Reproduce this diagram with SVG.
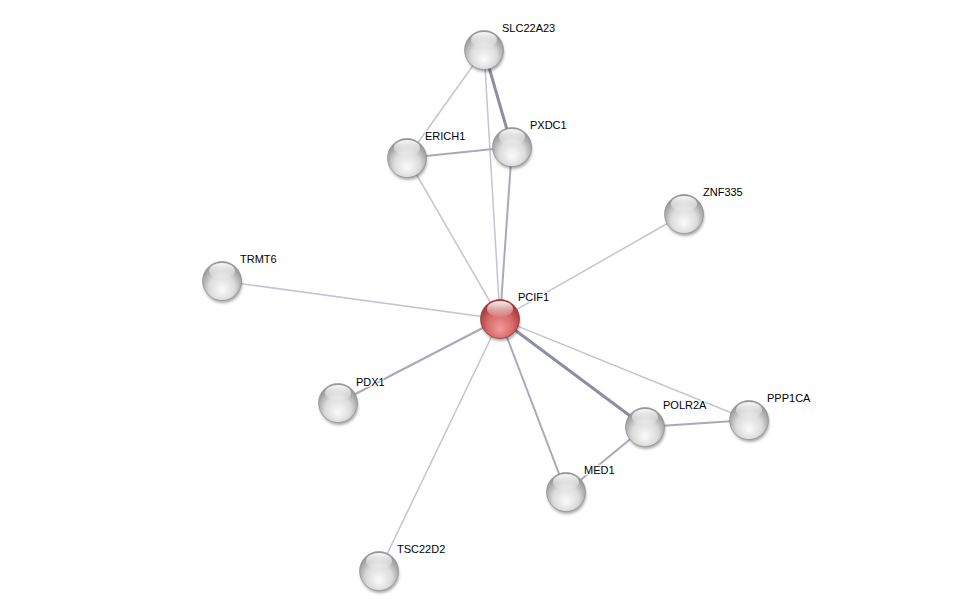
<svg xmlns="http://www.w3.org/2000/svg" width="975" height="616" viewBox="0 0 975 616">
<defs>
<radialGradient id="gBody" cx="50%" cy="62%" r="55%" fx="50%" fy="75%">
<stop offset="0" stop-color="#fbfbfb"/>
<stop offset="0.6" stop-color="#dcdcdc"/>
<stop offset="1" stop-color="#9a9a9a"/>
</radialGradient>
<radialGradient id="rBody" cx="50%" cy="62%" r="55%" fx="50%" fy="78%">
<stop offset="0" stop-color="#f49a9a"/>
<stop offset="0.6" stop-color="#d86a6a"/>
<stop offset="1" stop-color="#a83a3a"/>
</radialGradient>
<linearGradient id="hl" x1="0" y1="0" x2="0" y2="1">
<stop offset="0" stop-color="#ffffff" stop-opacity="0.95"/>
<stop offset="1" stop-color="#ffffff" stop-opacity="0.05"/>
</linearGradient>
<filter id="blur" x="-50%" y="-50%" width="200%" height="200%"><feGaussianBlur stdDeviation="1.5"/></filter>
</defs>
<style>
.e1{stroke:#c4c4d4;stroke-width:1.5;fill:none}
.e2{stroke:#a9a9bd;stroke-width:2;fill:none}
.e3{stroke:#8d8da5;stroke-width:3;fill:none}
.sh{fill:#000;opacity:0.35;filter:url(#blur)}
.g{fill:url(#gBody);stroke:#8a8a8a;stroke-width:0.6}
.r{fill:url(#rBody);stroke:#8a2a2a;stroke-width:0.6}
.h{fill:url(#hl)}
text{font-family:"Liberation Sans",Arial,sans-serif;font-size:11px;fill:#000;stroke:#fff;stroke-width:2.5;stroke-opacity:0.8;paint-order:stroke;stroke-linejoin:round}
</style>
<rect width="975" height="616" fill="#fff"/>
<g id="edges">
<line class="e1" x1="484" y1="50" x2="407" y2="158"/>
<line class="e3" x1="484" y1="50" x2="512" y2="147"/>
<line class="e1" x1="484" y1="50" x2="500" y2="319"/>
<line class="e2" x1="407" y1="158" x2="512" y2="147"/>
<line class="e1" x1="407" y1="158" x2="500" y2="319"/>
<line class="e2" x1="512" y1="147" x2="500" y2="319"/>
<line class="e1" x1="684" y1="214" x2="500" y2="319"/>
<line class="e1" x1="222" y1="281" x2="500" y2="319"/>
<line class="e2" x1="338" y1="403" x2="500" y2="319"/>
<line class="e1" x1="379" y1="571" x2="500" y2="319"/>
<line class="e2" x1="566" y1="492" x2="500" y2="319"/>
<line class="e3" x1="645" y1="427" x2="500" y2="319"/>
<line class="e1" x1="749" y1="420" x2="500" y2="319"/>
<line class="e2" x1="645" y1="427" x2="749" y2="420"/>
<line class="e2" x1="645" y1="427" x2="566" y2="492"/>
</g>
<g id="SLC22A23"><ellipse class="sh" cx="485" cy="53" rx="19" ry="19"/><circle class="g" cx="484" cy="50" r="19.5"/><ellipse class="h" cx="484" cy="40" rx="13" ry="8"/><text x="502" y="32">SLC22A23</text></g>
<g id="ERICH1"><ellipse class="sh" cx="408" cy="161" rx="19" ry="19"/><circle class="g" cx="407" cy="158" r="19.5"/><ellipse class="h" cx="407" cy="148" rx="13" ry="8"/><text x="425" y="140">ERICH1</text></g>
<g id="PXDC1"><ellipse class="sh" cx="513" cy="150" rx="19" ry="19"/><circle class="g" cx="512" cy="147" r="19.5"/><ellipse class="h" cx="512" cy="137" rx="13" ry="8"/><text x="530" y="129">PXDC1</text></g>
<g id="ZNF335"><ellipse class="sh" cx="685" cy="217" rx="19" ry="19"/><circle class="g" cx="684" cy="214" r="19.5"/><ellipse class="h" cx="684" cy="204" rx="13" ry="8"/><text x="703" y="196">ZNF335</text></g>
<g id="TRMT6"><ellipse class="sh" cx="223" cy="284" rx="19" ry="19"/><circle class="g" cx="222" cy="281" r="19.5"/><ellipse class="h" cx="222" cy="271" rx="13" ry="8"/><text x="240" y="263">TRMT6</text></g>
<g id="PCIF1"><ellipse class="sh" cx="501" cy="322" rx="19" ry="19"/><circle class="r" cx="500" cy="319" r="19.5"/><ellipse class="h" cx="500" cy="309" rx="13" ry="8"/><text x="518" y="301">PCIF1</text></g>
<g id="PDX1"><ellipse class="sh" cx="339" cy="406" rx="19" ry="19"/><circle class="g" cx="338" cy="403" r="19.5"/><ellipse class="h" cx="338" cy="393" rx="13" ry="8"/><text x="356" y="386">PDX1</text></g>
<g id="POLR2A"><ellipse class="sh" cx="646" cy="430" rx="19" ry="19"/><circle class="g" cx="645" cy="427" r="19.5"/><ellipse class="h" cx="645" cy="417" rx="13" ry="8"/><text x="663" y="409">POLR2A</text></g>
<g id="PPP1CA"><ellipse class="sh" cx="750" cy="423" rx="19" ry="19"/><circle class="g" cx="749" cy="420" r="19.5"/><ellipse class="h" cx="749" cy="410" rx="13" ry="8"/><text x="767" y="402">PPP1CA</text></g>
<g id="MED1"><ellipse class="sh" cx="567" cy="495" rx="19" ry="19"/><circle class="g" cx="566" cy="492" r="19.5"/><ellipse class="h" cx="566" cy="482" rx="13" ry="8"/><text x="584" y="474">MED1</text></g>
<g id="TSC22D2"><ellipse class="sh" cx="380" cy="574" rx="19" ry="19"/><circle class="g" cx="379" cy="571" r="19.5"/><ellipse class="h" cx="379" cy="561" rx="13" ry="8"/><text x="397" y="553">TSC22D2</text></g>
</svg>
